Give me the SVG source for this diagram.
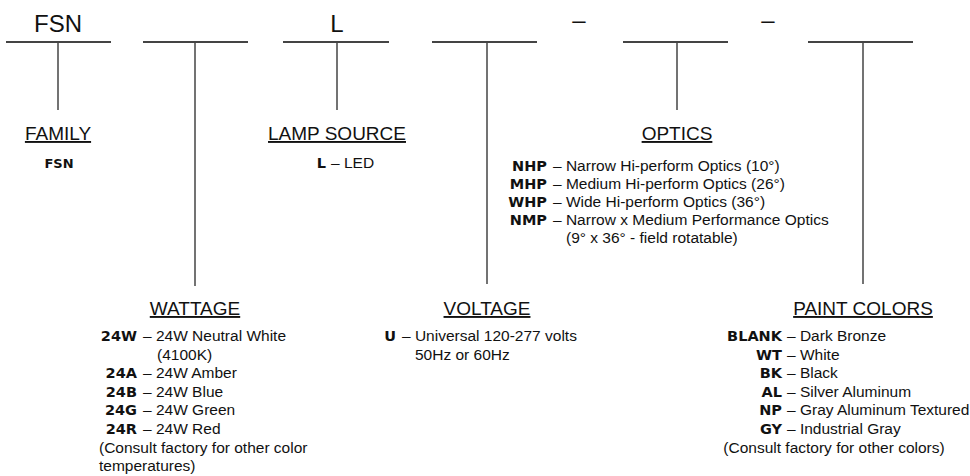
<svg xmlns="http://www.w3.org/2000/svg" width="970" height="476" viewBox="0 0 970 476">
<style>
text{font-family:"Liberation Sans",Arial,sans-serif;fill:#111}
.top{font-size:24px;text-anchor:middle}
.ttl{font-size:19px;text-anchor:middle;text-decoration:underline}
.it{font-size:15.5px}
.b{font-family:"DejaVu Sans","Liberation Sans",sans-serif;font-weight:bold;font-size:14.5px}
.e{text-anchor:end}
.m{text-anchor:middle}
.h{stroke:#444;stroke-width:2;fill:none}
.v{stroke:#444;stroke-width:1.5;fill:none}
</style>
<rect width="970" height="476" fill="#fff"/>
<g id="connectors">
<line class="h" x1="6" y1="42" x2="111" y2="42"/>
<line class="h" x1="143" y1="42" x2="248" y2="42"/>
<line class="h" x1="283" y1="42" x2="389" y2="42"/>
<line class="h" x1="432" y1="42" x2="537" y2="42"/>
<line class="h" x1="623" y1="42" x2="728" y2="42"/>
<line class="h" x1="808" y1="42" x2="913" y2="42"/>
<line class="v" x1="58" y1="42" x2="58" y2="110"/>
<line class="v" x1="195" y1="42" x2="195" y2="286"/>
<line class="v" x1="337" y1="42" x2="337" y2="110"/>
<line class="v" x1="487" y1="42" x2="487" y2="284"/>
<line class="v" x1="677" y1="42" x2="677" y2="110"/>
<line class="v" x1="863" y1="42" x2="863" y2="284"/>
</g>
<g id="code">
<text class="top" x="58" y="32">FSN</text>
<text class="top" x="337" y="32">L</text>
<text class="top" x="579" y="28">–</text>
<text class="top" x="768" y="28">–</text>
</g>
<g id="family">
<text class="ttl" x="58" y="140">FAMILY</text>
<text class="b m" x="59" y="168" style="font-size:13px">FSN</text>
</g>
<g id="lamp-source">
<text class="ttl" x="337" y="140">LAMP SOURCE</text>
<text class="b e" x="326" y="168">L</text>
<text class="it" x="331" y="168">– LED</text>
</g>
<g id="optics">
<text class="ttl" x="677" y="140">OPTICS</text>
<text class="b e" x="547" y="171">NHP</text>
<text class="it" x="553" y="171">– Narrow Hi-perform Optics (10°)</text>
<text class="b e" x="547" y="189">MHP</text>
<text class="it" x="553" y="189">– Medium Hi-perform Optics (26°)</text>
<text class="b e" x="547" y="207">WHP</text>
<text class="it" x="553" y="207">– Wide Hi-perform Optics (36°)</text>
<text class="b e" x="547" y="225">NMP</text>
<text class="it" x="553" y="225">– Narrow x Medium Performance Optics</text>
<text class="it" x="566" y="243">(9° x 36° - field rotatable)</text>
</g>
<g id="wattage">
<text class="ttl" x="195" y="315">WATTAGE</text>
<text class="b e" x="137" y="341">24W</text>
<text class="it" x="143" y="341">– 24W Neutral White</text>
<text class="it" x="157" y="359.6">(4100K)</text>
<text class="b e" x="137" y="378.2">24A</text>
<text class="it" x="143" y="378.2">– 24W Amber</text>
<text class="b e" x="137" y="396.8">24B</text>
<text class="it" x="143" y="396.8">– 24W Blue</text>
<text class="b e" x="137" y="415.4">24G</text>
<text class="it" x="143" y="415.4">– 24W Green</text>
<text class="b e" x="137" y="434">24R</text>
<text class="it" x="143" y="434">– 24W Red</text>
<text class="it" x="99" y="452.6">(Consult factory for other color</text>
<text class="it" x="99" y="471.2">temperatures)</text>
</g>
<g id="voltage">
<text class="ttl" x="487" y="315">VOLTAGE</text>
<text class="b e" x="396" y="341">U</text>
<text class="it" x="402" y="341">– Universal 120-277 volts</text>
<text class="it" x="415" y="359.6">50Hz or 60Hz</text>
</g>
<g id="paint-colors">
<text class="ttl" x="863" y="315">PAINT COLORS</text>
<text class="b e" x="782" y="341">BLANK</text>
<text class="it" x="787" y="341">– Dark Bronze</text>
<text class="b e" x="782" y="359.6">WT</text>
<text class="it" x="787" y="359.6">– White</text>
<text class="b e" x="782" y="378.2">BK</text>
<text class="it" x="787" y="378.2">– Black</text>
<text class="b e" x="782" y="396.8">AL</text>
<text class="it" x="787" y="396.8">– Silver Aluminum</text>
<text class="b e" x="782" y="415.4">NP</text>
<text class="it" x="787" y="415.4">– Gray Aluminum Textured</text>
<text class="b e" x="782" y="434">GY</text>
<text class="it" x="787" y="434">– Industrial Gray</text>
<text class="it m" x="834" y="452.6">(Consult factory for other colors)</text>
</g>
</svg>
